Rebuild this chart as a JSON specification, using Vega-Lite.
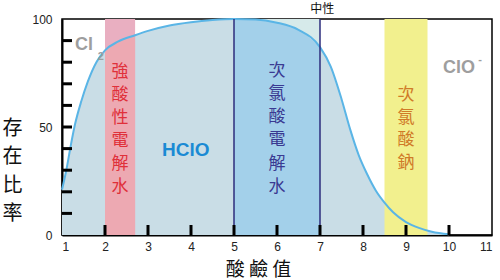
{
  "$schema": "https://vega.github.io/schema/vega-lite/v6.json",
  "width": 430,
  "height": 216,
  "autosize": "none",
  "padding": {"left": 62, "top": 19, "right": 8, "bottom": 45},
  "background": "white",
  "config": {
    "view": {"stroke": "black", "strokeWidth": 1.5},
    "axis": {"domainColor": "black", "domainWidth": 2, "ticks": false, "grid": false, "labelFont": "Liberation Sans", "labelFontSize": 12, "labelColor": "#222"}
  },
  "resolve": {"scale": {"color": "independent"}},
  "datasets": {
    "curve": [
      {"pH": 1.0, "v": 21}, {"pH": 1.1, "v": 30}, {"pH": 1.2, "v": 41}, {"pH": 1.3, "v": 51},
      {"pH": 1.45, "v": 62}, {"pH": 1.6, "v": 71}, {"pH": 1.8, "v": 80}, {"pH": 2.0, "v": 85.5},
      {"pH": 2.3, "v": 89.5}, {"pH": 2.7, "v": 92.5}, {"pH": 3.0, "v": 94.5}, {"pH": 3.5, "v": 97},
      {"pH": 4.0, "v": 98.5}, {"pH": 4.5, "v": 99.5}, {"pH": 5.0, "v": 100}, {"pH": 5.5, "v": 99.8},
      {"pH": 6.0, "v": 98.3}, {"pH": 6.5, "v": 95}, {"pH": 7.0, "v": 87}, {"pH": 7.25, "v": 78},
      {"pH": 7.5, "v": 63}, {"pH": 7.7, "v": 49}, {"pH": 7.9, "v": 37}, {"pH": 8.1, "v": 28},
      {"pH": 8.3, "v": 20.5}, {"pH": 8.5, "v": 15}, {"pH": 8.7, "v": 10.5}, {"pH": 9.0, "v": 6},
      {"pH": 9.3, "v": 3.3}, {"pH": 9.6, "v": 1.5}, {"pH": 10.0, "v": 0.3}
    ],
    "bands": [
      {"name": "strong", "start": 2.0, "end": 2.7},
      {"name": "hypo", "start": 5.0, "end": 7.0},
      {"name": "sodium", "start": 8.5, "end": 9.5}
    ],
    "lines": [{"pH": 5}, {"pH": 7}],
    "yticks": [{"pH": 1, "v": 10}, {"pH": 1, "v": 20}, {"pH": 1, "v": 30}, {"pH": 1, "v": 40}, {"pH": 1, "v": 50}, {"pH": 1, "v": 60}, {"pH": 1, "v": 70}, {"pH": 1, "v": 80}, {"pH": 1, "v": 90}],
    "xticks": [{"pH": 2, "v": 0}, {"pH": 3, "v": 0}, {"pH": 4, "v": 0}, {"pH": 5, "v": 0}, {"pH": 6, "v": 0}, {"pH": 7, "v": 0}, {"pH": 8, "v": 0}, {"pH": 9, "v": 0}, {"pH": 10, "v": 0}],
    "chars": [
      {"g": "strong", "c": "強", "pH": 2.35, "v": 75.5},
      {"g": "strong", "c": "酸", "pH": 2.35, "v": 64.8},
      {"g": "strong", "c": "性", "pH": 2.35, "v": 54.2},
      {"g": "strong", "c": "電", "pH": 2.35, "v": 43.5},
      {"g": "strong", "c": "解", "pH": 2.35, "v": 32.9},
      {"g": "strong", "c": "水", "pH": 2.35, "v": 22.2},
      {"g": "hypo", "c": "次", "pH": 6.0, "v": 75.9},
      {"g": "hypo", "c": "氯", "pH": 6.0, "v": 65.2},
      {"g": "hypo", "c": "酸", "pH": 6.0, "v": 54.6},
      {"g": "hypo", "c": "電", "pH": 6.0, "v": 43.9},
      {"g": "hypo", "c": "解", "pH": 6.0, "v": 33.0},
      {"g": "hypo", "c": "水", "pH": 6.0, "v": 22.2},
      {"g": "sodium", "c": "次", "pH": 9.0, "v": 64.8},
      {"g": "sodium", "c": "氯", "pH": 9.0, "v": 54.2},
      {"g": "sodium", "c": "酸", "pH": 9.0, "v": 43.8},
      {"g": "sodium", "c": "鈉", "pH": 9.0, "v": 33.3}
    ],
    "gray": [
      {"t": "Cl", "pH": 1.3, "v": 88},
      {"t": "ClO", "pH": 9.86, "v": 77.3}
    ],
    "small": [
      {"t": "2", "pH": 1.83, "v": 82.5},
      {"t": "-", "pH": 10.68, "v": 81}
    ]
  },
  "encoding": {
    "x": {"field": "pH", "type": "quantitative", "scale": {"domain": [1, 11], "nice": false},
      "axis": {"values": [1,2,3,4,5,6,7,8,9,10,11], "labelPadding": 6, "title": "酸 鹼 值",
        "titleFont": "Noto Sans CJK TC", "titleFontSize": 19, "titleFontWeight": "normal", "titleColor": "#111",
        "titleX": 196, "titleY": 34, "titleBaseline": "middle", "titleAlign": "center"}},
    "y": {"field": "v", "type": "quantitative", "scale": {"domain": [0, 100], "nice": false},
      "axis": {"values": [0,50,100], "labelPadding": 10,
        "title": ["存", "在", "比", "率"], "titleAngle": 0, "titleFont": "Noto Sans CJK TC", "titleFontSize": 20,
        "titleFontWeight": "normal", "titleColor": "#111", "titleLineHeight": 28.5,
        "titleX": -50, "titleY": 109, "titleAlign": "center", "titleBaseline": "middle"}}
  },
  "layer": [
    {"data": {"name": "curve"}, "mark": {"type": "area", "color": "#c9dde6", "interpolate": "monotone"}},
    {"data": {"name": "bands"}, "mark": {"type": "rect"},
      "encoding": {"x": {"field": "start", "type": "quantitative"}, "x2": {"field": "end"}, "y": null,
        "color": {"field": "name", "type": "nominal", "scale": {"domain": ["strong", "hypo", "sodium"], "range": ["#e9afc1", "#d6eaea", "#f2f08e"]}, "legend": null}}},
    {"data": {"name": "curve"}, "transform": [{"filter": "datum.pH >= 2 && datum.pH <= 2.7"}],
      "mark": {"type": "area", "color": "#eda9b2", "interpolate": "monotone"}},
    {"data": {"name": "curve"}, "transform": [{"filter": "datum.pH >= 5 && datum.pH <= 7"}],
      "mark": {"type": "area", "color": "#a3d0ea", "interpolate": "monotone"}},
    {"data": {"name": "curve"}, "mark": {"type": "line", "color": "#5ab5e6", "strokeWidth": 2, "interpolate": "monotone"}},
    {"data": {"name": "lines"}, "mark": {"type": "rule", "color": "#2c2c7c", "strokeWidth": 1.5},
      "encoding": {"x": {"field": "pH", "type": "quantitative"}, "y": null}},
    {"data": {"name": "yticks"}, "mark": {"type": "tick", "orient": "horizontal", "color": "black", "size": 10, "thickness": 3, "xOffset": 5, "opacity": 1}},
    {"data": {"name": "xticks"}, "mark": {"type": "tick", "orient": "vertical", "color": "black", "size": 10, "thickness": 3, "yOffset": -5, "opacity": 1}},
    {"data": {"name": "chars"}, "mark": {"type": "text", "font": "Noto Sans CJK TC", "fontSize": 17, "baseline": "middle", "align": "center"},
      "encoding": {"text": {"field": "c"},
        "color": {"field": "g", "type": "nominal", "scale": {"domain": ["strong", "hypo", "sodium"], "range": ["#e0303a", "#3a3a92", "#d07a28"]}, "legend": null}}},
    {"data": {"values": [{"t": "HClO", "pH": 3.88, "v": 39.4}]},
      "mark": {"type": "text", "font": "Liberation Sans", "fontWeight": "bold", "fontSize": 19, "color": "#1a8ad4", "baseline": "middle", "align": "center"},
      "encoding": {"text": {"field": "t"}}},
    {"data": {"name": "gray"}, "mark": {"type": "text", "font": "Liberation Sans", "fontWeight": "bold", "fontSize": 18, "color": "#9e9e9e", "baseline": "middle", "align": "left"},
      "encoding": {"text": {"field": "t"}}},
    {"data": {"name": "small"}, "mark": {"type": "text", "font": "Liberation Sans", "fontWeight": "bold", "fontSize": 11, "color": "#9e9e9e", "baseline": "middle", "align": "left"},
      "encoding": {"text": {"field": "t"}}},
    {"data": {"values": [{"t": "中性", "pH": 7.05, "v": 104.8}]},
      "mark": {"type": "text", "font": "Noto Sans CJK TC", "fontSize": 12, "color": "#111", "baseline": "middle", "align": "center"},
      "encoding": {"text": {"field": "t"}}}
  ]
}
